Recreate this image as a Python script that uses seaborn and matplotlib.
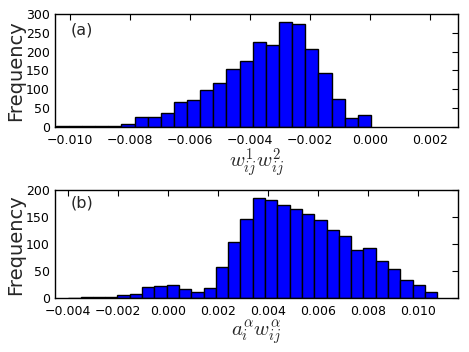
import numpy as np
import pandas as pd
import matplotlib
matplotlib.use("Agg")
import matplotlib.pyplot as plt
import seaborn as sns

# ---- data ----
top_counts = [3, 1, 2, 1, 3, 7, 25, 25, 37, 65, 70, 98, 116, 155, 175, 226,
              217, 280, 273, 208, 143, 74, 22, 30]
top_range = (-0.01047, 0.00003)
bottom_counts = [1, 2, 3, 3, 6, 8, 20, 22, 24, 17, 11, 19, 58, 104, 146, 186,
                 182, 172, 165, 156, 144, 127, 115, 90, 92, 69, 55, 33, 25, 12]
bottom_range = (-0.0040, 0.01076)
top_xticks = [-0.010, -0.008, -0.006, -0.004, -0.002, 0.000, 0.002]
bottom_xticks = [-0.004, -0.002, 0.000, 0.002, 0.004, 0.006, 0.008, 0.010]
top_yticks = [0, 50, 100, 150, 200, 250, 300]
bottom_yticks = [0, 50, 100, 150, 200]
top_label = r"$w_{ij}^{1}w_{ij}^{2}$"
bottom_label = r"$a_{i}^{\alpha}w_{ij}^{\alpha}$"
panel_labels = ["(a)", "(b)"]

sns.set_style("white")
plt.rcParams["font.family"] = ["DejaVu Sans"]
plt.rcParams["mathtext.fontset"] = "cm"

fig = plt.figure(figsize=(4.69, 3.52), dpi=100)
ax1 = fig.add_axes([0.1183, 0.640, 0.8582, 0.320])
ax2 = fig.add_axes([0.1183, 0.1526, 0.8582, 0.3076])


def draw(ax, counts, rng, xticks, yticks, xlabel, xlim, ylim, plabel, plabel_y):
    edges = np.linspace(rng[0], rng[1], len(counts) + 1)
    centers = (edges[:-1] + edges[1:]) / 2
    df = pd.DataFrame({"x": centers, "w": counts})
    sns.histplot(data=df, x="x", weights="w", bins=edges.tolist(), ax=ax,
                 color="#0000ff", edgecolor="black", linewidth=1.0, alpha=1.0)
    ax.set_xlim(*xlim)
    ax.set_ylim(*ylim)
    ax.set_xticks(xticks)
    ax.set_xticklabels([f"{t:.3f}".replace("-", "\u2212") for t in xticks])
    ax.set_yticks(yticks)
    ax.tick_params(direction="in", top=True, right=True, length=4, width=0.8,
                   labelsize=9, colors="black")
    ax.tick_params(axis="x", pad=5)
    ax.tick_params(axis="y", pad=4)
    for s in ax.spines.values():
        s.set_color("black")
        s.set_linewidth(1.0)
    ax.set_xlabel(xlabel, fontsize=15, labelpad=0)
    ax.set_ylabel("Frequency", fontsize=14, labelpad=1)
    ax.text(0.038, plabel_y, plabel, transform=ax.transAxes, fontsize=11.5,
            va="center", ha="left")


draw(ax1, top_counts, top_range, top_xticks, top_yticks, top_label,
     (-0.01048, 0.00293), (0, 300), panel_labels[0], 0.858)
draw(ax2, bottom_counts, bottom_range, bottom_xticks, bottom_yticks, bottom_label,
     (-0.00451, 0.01159), (0, 200), panel_labels[1], 0.877)

fig.savefig("out.png", dpi=100)
